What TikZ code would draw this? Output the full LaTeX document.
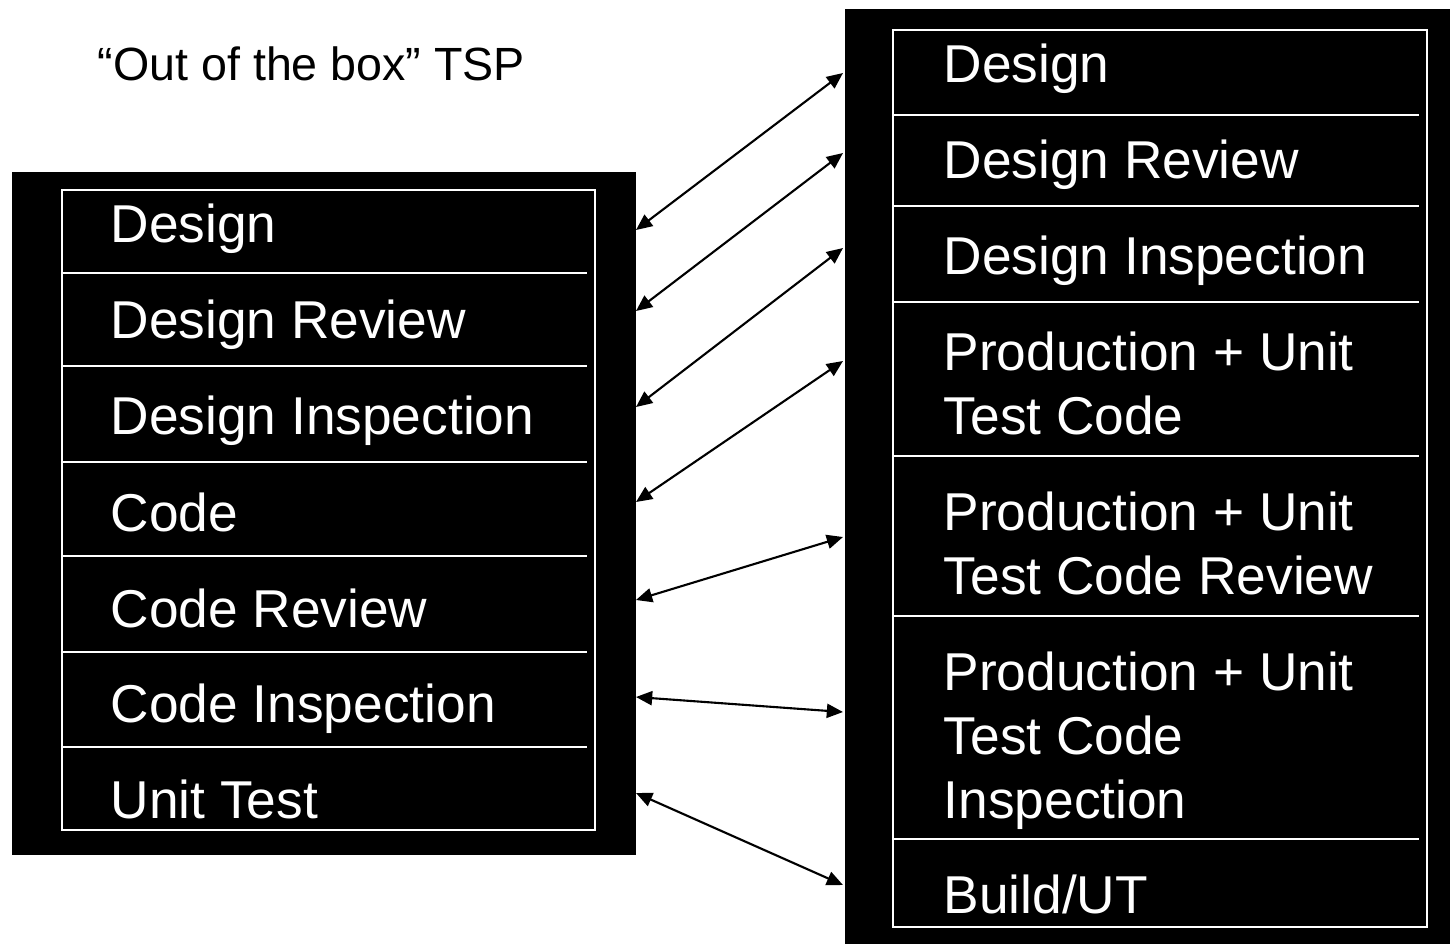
\documentclass[tikz,border=0pt]{standalone}
\usepackage{fontspec}
\setmainfont{Liberation Sans}
\usetikzlibrary{arrows.meta}

\begin{document}
\begin{tikzpicture}[x=0.01cm, y=-0.01cm,
    stage/.style={white, anchor=base west, inner sep=0pt, align=left,
                  font=\fontsize{15.15}{18.2}\selectfont},
    sep/.style={white, line width=0.6pt},
    link/.style={{Triangle[length=4.6pt,width=4pt]}-{Triangle[length=4.6pt,width=4pt]},
                 line width=0.6pt}
  ]
  \useasboundingbox (0,0) rectangle (1450,944);
  \node[anchor=base west, inner sep=0pt, font=\fontsize{13.25}{16}\selectfont]
    (title) at (97,80) {“Out of the box” TSP};

  % left column
  \fill (12,172) rectangle (636,855);
  \draw[sep] (62,190) rectangle (595,830);
  \foreach \y in {273,366,462,556,652,747} \draw[sep] (62,\y) -- (587,\y);
  \node[stage] (ldes)  at (110,242) {Design};
  \node[stage] (lrev)  at (110,338) {Design Review};
  \node[stage] (lins)  at (110,434) {Design Inspection};
  \node[stage] (lcode) at (110,531) {Code};
  \node[stage] (lcrev) at (110,627) {Code Review};
  \node[stage] (lcins) at (110,722) {Code Inspection};
  \node[stage] (lut)   at (110,818) {Unit Test};

  % right column (base = last line)
  \fill (845,9) rectangle (1450,944);
  \draw[sep] (893,30) rectangle (1427,927);
  \foreach \y in {115,206,302,456,616,839} \draw[sep] (893,\y) -- (1419,\y);
  \node[stage] (rdes)   at (943,82)  {Design};
  \node[stage] (rrev)   at (943,178) {Design Review};
  \node[stage] (rins)   at (943,274) {Design Inspection};
  \node[stage] (rprod)  at (943,434) {Production + Unit\\Test Code};
  \node[stage] (rprev)  at (943,594) {Production + Unit\\Test Code Review};
  \node[stage] (rpins)  at (943,818) {Production + Unit\\Test Code\\Inspection};
  \node[stage] (rbuild) at (943,913) {Build/UT};

  % mapping arrows
  \foreach \i/\a/\b in {1/230/73, 2/311/153, 3/407/248, 4/502/361,
                        5/600/537, 6/697/712, 7/793/885} {
    \coordinate (l\i) at (636,\a);
    \coordinate (r\i) at (843,\b);
  }
  \foreach \i in {1,...,7} \draw[link] (l\i) -- (r\i);
\end{tikzpicture}
\end{document}
